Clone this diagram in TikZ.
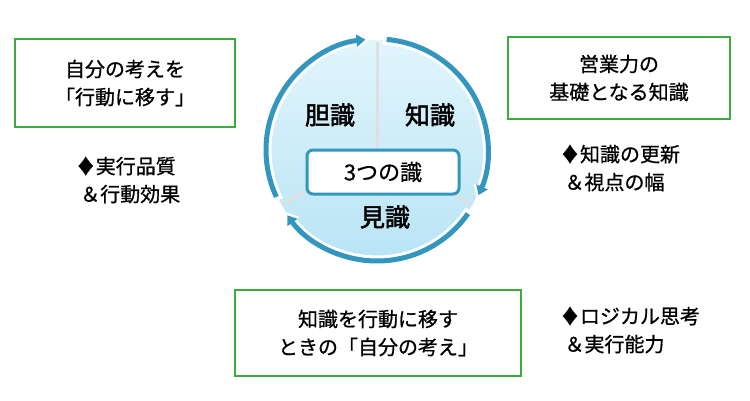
\documentclass[tikz,border=0pt]{standalone}
\usepackage{fontspec}
\newfontfamily\cjk{Noto Sans CJK JP}[FakeBold=0.8]
\newfontfamily\cjkb{Noto Sans CJK JP}[FakeBold=2]
\usetikzlibrary{arrows.meta}
\definecolor{gbox}{RGB}{60,170,60}
\definecolor{ring}{RGB}{50,150,190}
\definecolor{fillin}{RGB}{185,228,245}
\definecolor{fillc}{RGB}{225,245,252}
\tikzset{x=1pt,y=-1pt,
 gb/.style={draw=gbox,line width=1.3pt,fill=white,inner sep=0pt},
 lab/.style={font=\cjk\fontsize{20}{28}\selectfont,align=center},
 big/.style={font=\cjkb\fontsize{25}{28}\selectfont},
 arc/.style={line width=11pt,white,-{Triangle[length=12pt,width=18pt]}},
 arcin/.style={line width=5pt,ring,-{Triangle[length=9pt,width=12pt]}}}
\begin{document}
\begin{tikzpicture}
\useasboundingbox (0,0) rectangle (750,400);
\coordinate (c) at (377,150);
\shade[top color=fillc,bottom color=fillin] (c) circle (110);
\draw[white!75!gray,line width=3pt] (c) -- ++(0,-108);
\draw[white!75!gray,line width=3pt] (c) -- ++(30:108);
\draw[white!75!gray,line width=3pt] (c) -- ++(150:108);
\foreach \a/\b in {-207/-94,-87/26,33/146}{
 \draw[arc] (c) ++(\a:111) arc[start angle=\a,end angle=\b,radius=111];
}
\foreach \a/\b in {-205/-96,-85/24,35/144}{
 \draw[arcin] (c) ++(\a:111) arc[start angle=\a,end angle=\b,radius=111];
}
\node[draw=ring,line width=3pt,fill=white,rounded corners=6pt,minimum width=152,minimum height=44,font=\cjk\fontsize{22}{24}\selectfont] (core) at (383,172) {3つの識};
\node[big] (tan) at (330,115) {胆識};
\node[big] (chi) at (430,115) {知識};
\node[big] (ken) at (385,217) {見識};
\node[gb,minimum width=220,minimum height=88,lab] (b1) at (125,83) {自分の考えを\\「行動に移す」};
\node[gb,minimum width=222,minimum height=82,lab] (b2) at (619,78) {営業力の\\基礎となる知識};
\node[gb,minimum width=286,minimum height=86,lab] (b3) at (378,333) {知識を行動に移す\\ときの「自分の考え」};
\node[lab,align=left] (t1) at (128,180) {♦実行品質\\\ ＆行動効果};
\node[lab,align=left] (t2) at (620,168) {♦知識の更新\\\ ＆視点の幅};
\node[lab,align=left] (t3) at (630,330) {♦ロジカル思考\\\ ＆実行能力};
\end{tikzpicture}
\end{document}
